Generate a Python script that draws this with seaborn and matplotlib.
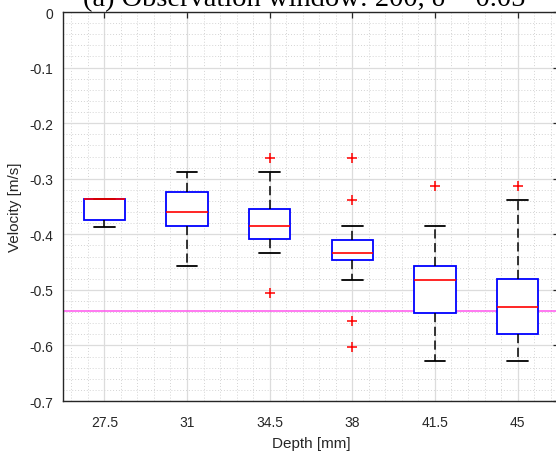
import matplotlib
matplotlib.use("Agg")
import matplotlib.pyplot as plt
from matplotlib.ticker import MultipleLocator
import seaborn as sns
import pandas as pd

# Depth categories (tick labels)
depths = ["27.5", "31", "34.5", "38", "41.5", "45"]

# Samples for each depth: whisker ends, quartiles,
# median (repeated where needed so the quartiles land on them) and outliers.
v_27_5 = [-0.386, -0.374, -0.3365, -0.3365, -0.3365]
v_31 = [-0.4577, -0.3857, -0.3605, -0.3245, -0.2885]
v_34_5 = [-0.5063, -0.4337, -0.409, -0.409, -0.3857, -0.3857, -0.3551, -0.2885, -0.2633]
v_38 = [-0.6034, -0.556, -0.4817, -0.4457, -0.4457, -0.4457, -0.4337, -0.4337,
        -0.4337, -0.4097, -0.3857, -0.3383, -0.2633]
v_41_5 = [-0.6275, -0.5422, -0.5422, -0.4817, -0.4817, -0.4577, -0.4577, -0.3857, -0.3125]
v_45 = [-0.6275, -0.579, -0.579, -0.5309, -0.5309, -0.481, -0.481, -0.338, -0.3125]

# Reference level (magenta line)
ref_velocity = -0.5375

samples = [v_27_5, v_31, v_34_5, v_38, v_41_5, v_45]
df = pd.DataFrame({
    "depth": [d for d, s in zip(depths, samples) for _ in s],
    "velocity": [v for s in samples for v in s],
})

sns.set_style("white")
plt.rcParams["font.family"] = ["Liberation Sans", "DejaVu Sans"]

fig = plt.figure(figsize=(5.56, 4.56), dpi=100)
ax = fig.add_axes([0.1133, 0.1184, 0.892, 0.853])

txt = "#262626"

sns.boxplot(
    data=df, x="depth", y="velocity", order=depths, ax=ax,
    width=0.5, color="white", linecolor="#0000ff", linewidth=1.3,
    whis=1.5, fliersize=6,
    boxprops=dict(edgecolor="#0000ff", facecolor="white", linewidth=1.3),
    medianprops=dict(color="#ff0000", linewidth=1.2),
    whiskerprops=dict(color="black", linestyle=(0, (6, 3)), linewidth=1.1),
    capprops=dict(color="black", linewidth=1.3),
    flierprops=dict(marker="+", markeredgecolor="#ff0000", markerfacecolor="#ff0000",
                    markersize=7, markeredgewidth=1.1),
    capwidths=0.25,
)

ax.axhline(ref_velocity, color="#ff55ee", linewidth=1.1, zorder=1)

ax.set_xlim(-0.5, 5.5)
ax.set_ylim(-0.7, 0)
ax.yaxis.set_major_locator(MultipleLocator(0.1))
ax.yaxis.set_minor_locator(MultipleLocator(0.02))
ax.xaxis.set_minor_locator(MultipleLocator(0.2))
ax.set_yticklabels([f"{t:g}" if abs(t) > 1e-9 else "0" for t in ax.get_yticks()])

ax.set_axisbelow(True)
ax.grid(True, which="major", axis="both", color="#dcdcdc", linewidth=0.9, linestyle="-")
ax.grid(True, which="minor", axis="both", color="#d4d4d4", linewidth=0.7, linestyle=(0, (1, 2)))

for sp in ax.spines.values():
    sp.set_visible(True)
    sp.set_color("#262626")
    sp.set_linewidth(1.0)

ax.tick_params(which="major", direction="in", length=4, width=0.9, color="#262626",
               top=True, right=True, labelsize=10, labelcolor=txt)
ax.tick_params(axis="x", which="major", pad=10)
ax.tick_params(axis="y", which="major", pad=7)
ax.tick_params(which="minor", length=0)

ax.set_xlabel("Depth [mm]", fontsize=11, color=txt, labelpad=5)
ax.set_ylabel("Velocity [m/s]", fontsize=11, color=txt, labelpad=5)

fig.text(0.547, 0.987, "(a) Observation window: 200, δ = 0.05",
         family=["Liberation Serif", "DejaVu Serif"], fontsize=20.5,
         ha="center", va="baseline", color="black")

fig.savefig("out.png", dpi=100)
